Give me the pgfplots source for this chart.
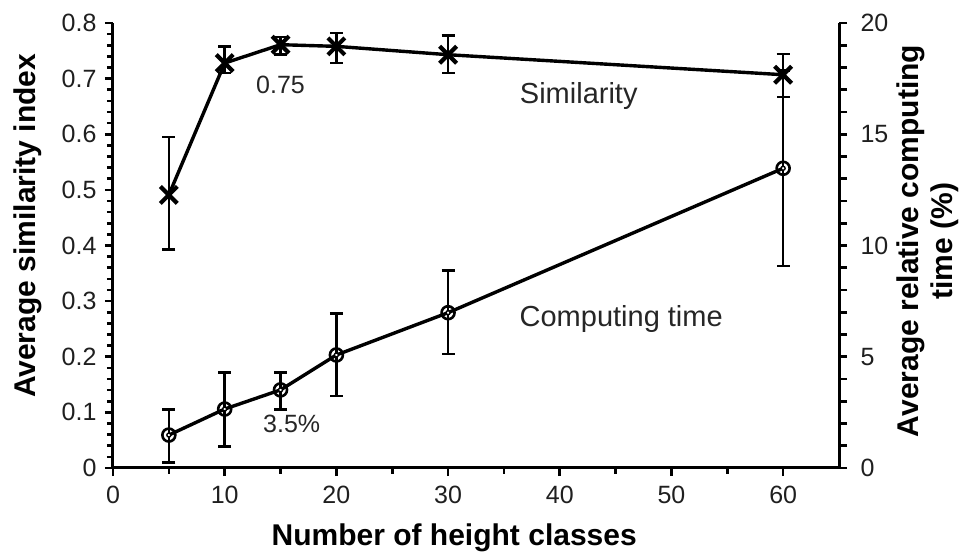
\documentclass[border=0pt]{standalone}
\usepackage{pgfplots}
\pgfplotsset{compat=1.18}
\usepackage{pgfplotstable}
\usepackage{fontspec}
\setmainfont{Liberation Sans}

\pgfplotstableread{
x y ep em
5 0.491 0.104 0.098
10 0.728 0.030 0.018
15 0.761 0.014 0.018
20 0.758 0.024 0.030
30 0.743 0.034 0.033
60 0.707 0.037 0.040
}\simtable

\pgfplotstableread{
x y ep em
5 1.48 1.16 1.24
10 2.65 1.65 1.69
15 3.51 0.79 0.87
20 5.08 1.87 1.84
30 6.98 1.89 1.86
60 13.47 4.39 4.39
}\timetable

\pgfplotsset{
  common/.style={
    scale only axis,
    width=726pt, height=445pt,
    at={(0pt,0pt)}, anchor=south west,
    xmin=0, xmax=65,
    /pgf/number format/assume math mode=true,
    tick label style={font=\fontsize{25}{28}\selectfont, text=black!88},
    label style={font=\fontsize{30}{34}\selectfont\bfseries},
    axis line style={line width=3pt},
    every tick/.style={line width=2.6pt, black},
    tick align=outside,
  },
  errstyle/.style={
    error bars/.cd, y dir=both, y explicit,
    error bar style={line width=2.6pt},
    error mark options={rotate=90, mark size=6.5pt, line width=2.6pt},
  },
}

\begin{document}
\begin{tikzpicture}
\useasboundingbox (-113pt,-91pt) rectangle (850pt,468pt);
\begin{axis}[common,
  axis y line*=left, axis x line*=bottom,
  ymin=0, ymax=0.8,
  ytick={0,0.1,...,0.8},
  yticklabels={0,0.1,0.2,0.3,0.4,0.5,0.6,0.7,0.8},
  minor y tick num=4,
  xtick={0,10,...,60},
  minor x tick num=1,
  major tick length=8pt, minor tick length=6pt,
  xticklabel style={yshift=-7pt},
  yticklabel style={xshift=-5pt},
  xlabel={Number of height classes},
  ylabel={Average similarity index},
  xlabel style={at={(axis description cs:0.47,-0.157)}, anchor=center},
  ylabel style={at={(axis description cs:-0.117,0.544)}, anchor=center},
]
\addplot[black, line width=3.4pt, mark=x, mark size=12pt,
  mark options={line width=4.2pt}, errstyle]
  table[x=x, y=y, y error plus=ep, y error minus=em] {\simtable};
\node[font=\fontsize{25}{28}\selectfont, anchor=base, text=black!85] at (axis cs:15.0,0.673) {0.75};
\node[font=\fontsize{25}{28}\selectfont, anchor=base, text=black!85] at (axis cs:16.0,0.0635) {3.5\%};
\node[font=\fontsize{29}{32}\selectfont, anchor=base, text=black!85] at (axis cs:41.7,0.656) {Similarity};
\node[font=\fontsize{29}{32}\selectfont, anchor=base, text=black!85] at (axis cs:45.5,0.255) {Computing time};
\end{axis}
\begin{axis}[common,
  axis x line=none, axis y line*=right,
  ymin=0, ymax=20,
  ytick={0,5,...,20},
  minor y tick num=4,
  major tick length=8pt, minor tick length=8pt,
  yticklabel style={xshift=10pt},
  ylabel={Average relative computing\\time (\%)},
  ylabel style={at={(axis description cs:1.122,0.51)}, anchor=center, align=center},
]
\addplot[black, line width=3.4pt, mark=o, mark size=6.5pt,
  mark options={line width=2.6pt}, errstyle]
  table[x=x, y=y, y error plus=ep, y error minus=em] {\timetable};
\addplot[only marks, mark=*, mark size=2pt,
  mark options={fill=white, draw=black, line width=1.4pt}]
  table[x=x, y=y] {\timetable};
\end{axis}
\end{tikzpicture}
\end{document}
